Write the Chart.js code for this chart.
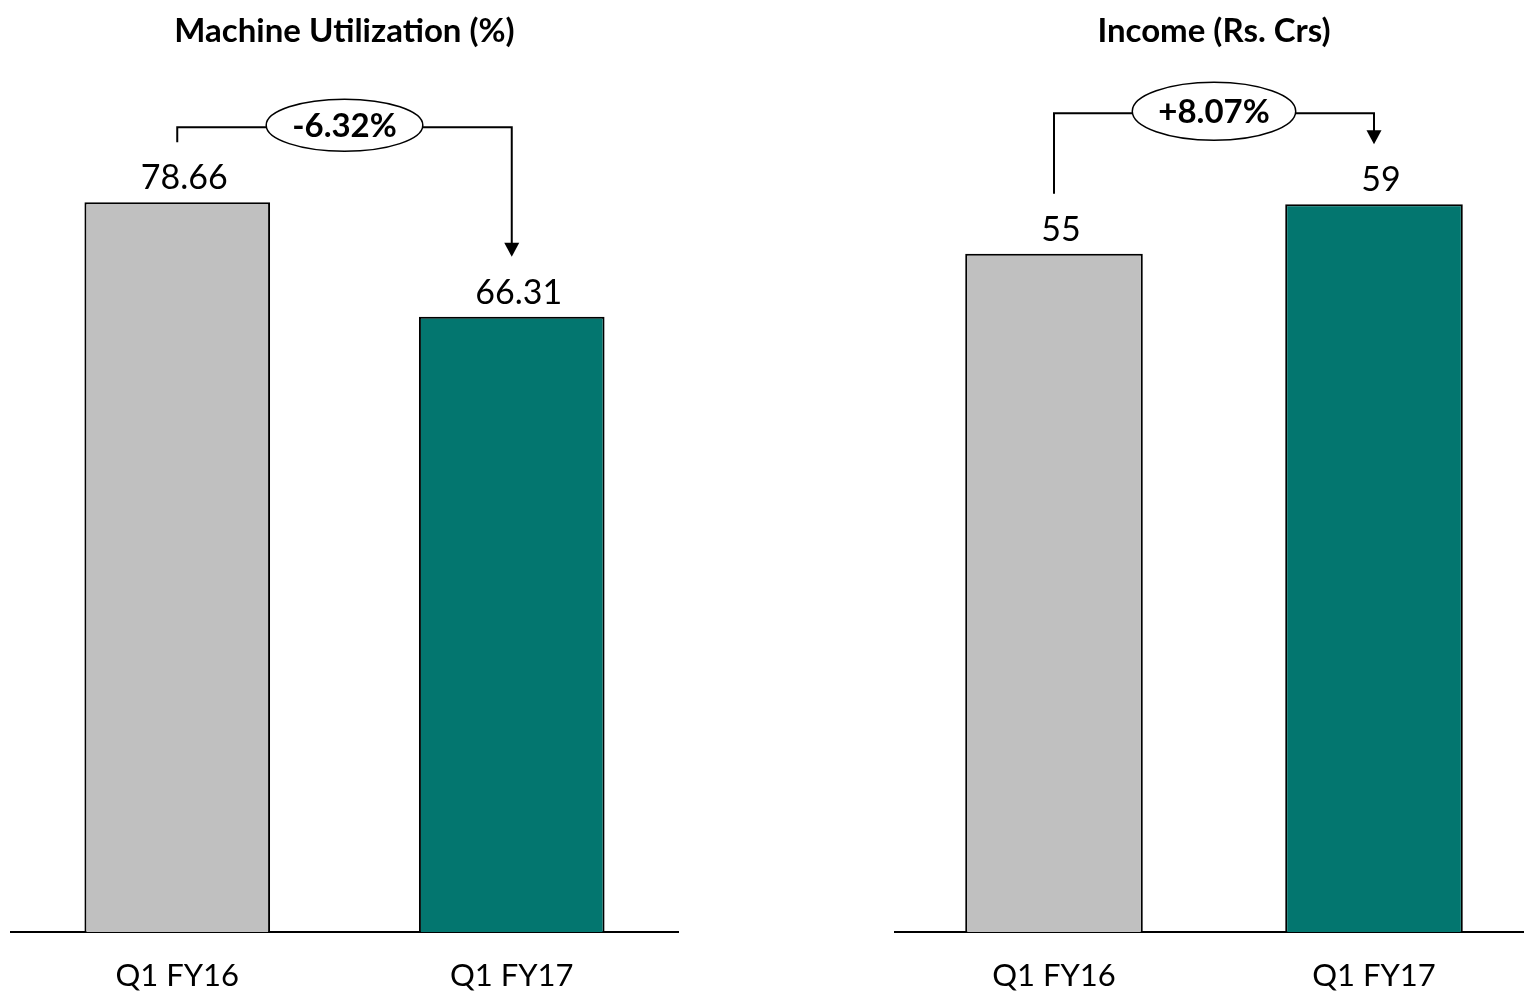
<!DOCTYPE html>
<html>
<head>
<meta charset="utf-8">
<script src="https://cdn.jsdelivr.net/npm/chart.js@4.4.1/dist/chart.umd.min.js"></script>
<style>
  html, body { margin: 0; padding: 0; background: #fff; overflow: hidden; width: 1524px; height: 995px; }
  .panel { position: absolute; top: 0; height: 1020px; }
  #utilWrap { left: 10px; width: 669px; }
  #incomeWrap { left: 894px; width: 640px; }
</style>
</head>
<body>
<div id="utilWrap" class="panel"><canvas id="utilChart"></canvas></div>
<div id="incomeWrap" class="panel"><canvas id="incomeChart"></canvas></div>
<script>
// Quarters shown on both panels
const categories = ['Q1 FY16', 'Q1 FY17'];
// Machine utilization, percent
const utilizationValues = [78.66, 66.31];
// Income, Rs. crores
const incomeValues = [55, 59];
// Change callouts drawn in the ovals
const utilizationChange = '-6.32%';
const incomeChange = '+8.07%';

const GREY = '#C0C0C0';
const TEAL = '#03766F';
const FONT = 'Lato, "Open Sans", sans-serif';

// Draws the value labels above the bars and the bracket arrow with its oval callout
const calloutPlugin = {
  id: 'callout',
  afterDatasetsDraw(chart, args, opts) {
    const ctx = chart.ctx;
    const meta = chart.getDatasetMeta(0);
    const ds = chart.data.datasets[0];
    ctx.save();

    // value labels
    ctx.fillStyle = '#000';
    ctx.font = '34px ' + FONT;
    ctx.textAlign = 'center';
    ctx.textBaseline = 'alphabetic';
    meta.data.forEach((bar, i) => {
      ctx.fillText(opts.format(ds.data[i]), bar.x + 7, bar.y - 13);
    });

    // bracket arrow from first bar to second bar
    const a = meta.data[0], b = meta.data[1];
    const topY = Math.min(a.y, b.y) - opts.rise;
    const startY = a.y - 60;
    const endY = b.y - 60;
    ctx.strokeStyle = '#000';
    ctx.lineWidth = 2;
    ctx.beginPath();
    ctx.moveTo(a.x, startY);
    ctx.lineTo(a.x, topY);
    ctx.lineTo(b.x, topY);
    ctx.lineTo(b.x, endY - 13);
    ctx.stroke();
    ctx.fillStyle = '#000';
    ctx.beginPath();
    ctx.moveTo(b.x - 7.5, endY - 14);
    ctx.lineTo(b.x + 7.5, endY - 14);
    ctx.lineTo(b.x, endY);
    ctx.closePath();
    ctx.fill();

    // oval with the change text
    ctx.font = 'bold 33px ' + FONT;
    const tw = ctx.measureText(opts.text).width;
    const cx = (a.x + b.x) / 2;
    const cy = topY - 2;
    ctx.beginPath();
    ctx.ellipse(cx, cy, tw / 2 + 26, opts.ry, 0, 0, Math.PI * 2);
    ctx.fillStyle = '#fff';
    ctx.fill();
    ctx.lineWidth = 1.5;
    ctx.stroke();
    ctx.fillStyle = '#000';
    ctx.textBaseline = 'middle';
    ctx.fillText(opts.text, cx, cy + 1);
    ctx.restore();
  }
};

function makeChart(id, title, values, yMax, callout) {
  return new Chart(document.getElementById(id), {
    type: 'bar',
    data: {
      labels: categories,
      datasets: [{
        data: values,
        backgroundColor: [GREY, TEAL],
        borderColor: '#000',
        borderWidth: 2,
        categoryPercentage: 1,
        barPercentage: 0.555
      }]
    },
    options: {
      responsive: true,
      maintainAspectRatio: false,
      animation: false,
      events: [],
      layout: { padding: 0 },
      scales: {
        x: {
          grid: { display: false, drawTicks: false },
          border: { display: true, color: '#000', width: 2 },
          ticks: { color: '#000', font: { family: FONT, size: 31 }, padding: 25.4 }
        },
        y: { display: false, min: 0, max: yMax }
      },
      plugins: {
        legend: { display: false },
        tooltip: { enabled: false },
        title: {
          display: true,
          text: title,
          color: '#000',
          font: { family: FONT, size: 33, weight: 'bold' },
          padding: { top: 12, bottom: 45.4 }
        },
        callout: callout
      }
    },
    plugins: [calloutPlugin]
  });
}

makeChart('utilChart', 'Machine Utilization (%)', utilizationValues, 90, {
  text: utilizationChange, rise: 75, ry: 26,
  format: v => v.toFixed(2)
});
makeChart('incomeChart', 'Income (Rs. Crs)', incomeValues, 67.7, {
  text: incomeChange, rise: 91, ry: 29,
  format: v => String(v)
});
</script>
</body>
</html>
